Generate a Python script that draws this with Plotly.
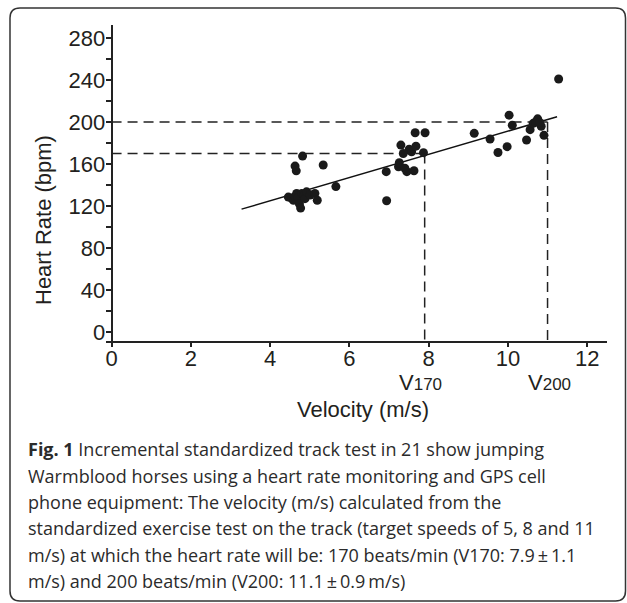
import plotly.graph_objects as go

# ---------------- data ----------------
velocity = [4.46, 4.55, 4.59, 4.63, 4.67, 4.70, 4.74, 4.77, 4.80, 4.85,
            4.88, 4.92, 5.01, 5.13, 5.19, 4.63, 4.66, 4.82, 5.34, 5.66,
            6.93, 6.94, 7.24, 7.26, 7.30, 7.45, 7.51, 7.57, 7.63, 7.66,
            7.68, 7.87, 7.91, 7.36, 7.40,
            9.15, 9.55, 9.75, 9.98, 10.03, 10.11, 10.47, 10.56, 10.64, 10.75,
            10.84, 10.91, 11.28, 10.70, 10.80]
heart_rate = [128.5, 127, 125.5, 129, 132, 128, 122, 118, 132, 130,
              127, 133.5, 130.5, 132, 125.5, 158, 153.5, 167.5, 159, 138.5,
              152.7, 125, 157.4, 161.2, 178, 152.7, 174, 171.7, 153.6, 189.8,
              177, 170.8, 189.8, 170, 156,
              189.2, 183.8, 171, 176.5, 206.5, 197, 182.9, 192.7, 198.7, 203,
              196, 187.3, 241, 200, 199.5]

reg_x = [3.28, 11.24]
reg_y = [117, 205]

hr_levels = [170, 200]
v_levels = [7.9, 11.0]
v_labels = ["170", "200"]

x_ticks = [0, 2, 4, 6, 8, 10, 12]
y_ticks = [0, 40, 80, 120, 160, 200, 240, 280]
x_range = [-0.14, 12.5]
y_range = [-8.6, 292.4]

caption_lines = [
    "<b>Fig. 1</b> Incremental standardized track test in 21 show jumping",
    "Warmblood horses using a heart rate monitoring and GPS cell",
    "phone equipment: The velocity (m/s) calculated from the",
    "standardized exercise test on the track (target speeds of 5, 8 and 11",
    "m/s) at which the heart rate will be: 170 beats/min (V170: 7.9\u2009\u00b1\u20091.1",
    "m/s) and 200 beats/min (V200: 11.1\u2009\u00b1\u20090.9\u2009m/s)",
]

# ---------------- layout geometry (pixels) ----------------
WIDTH, HEIGHT = 627, 603
L, R, T, B = 106, 607, 25, 341          # plot area
PW, PH = R - L, B - T


def px(xp):
    return (xp - L) / PW


def py(yp):
    return (B - yp) / PH


TXT = "#231f20"
FONT = "Liberation Sans, Arial, sans-serif"
FS = 22

fig = go.Figure()

# dashed reference lines
for hr, v in zip(hr_levels, v_levels):
    fig.add_trace(go.Scatter(x=[0, v], y=[hr, hr], mode="lines",
                             line=dict(color="#222", width=1.5, dash="10px,6px"),
                             hoverinfo="skip", showlegend=False))
    fig.add_trace(go.Scatter(x=[v, v], y=[hr, y_range[0]], mode="lines",
                             line=dict(color="#222", width=1.5, dash="10px,6px"),
                             hoverinfo="skip", showlegend=False))

# regression line
fig.add_trace(go.Scatter(x=reg_x, y=reg_y, mode="lines",
                         line=dict(color="#111", width=1.5),
                         hoverinfo="skip", showlegend=False))

# data points
fig.add_trace(go.Scatter(x=velocity, y=heart_rate, mode="markers",
                         marker=dict(color="#1a1a1a", size=9, line=dict(width=0)),
                         showlegend=False))

fig.update_layout(
    width=WIDTH, height=HEIGHT,
    margin=dict(l=L, r=WIDTH - R, t=T, b=HEIGHT - B, pad=0),
    paper_bgcolor="white", plot_bgcolor="white",
    font=dict(family=FONT, color=TXT, size=FS),
    xaxis=dict(range=x_range, tickvals=x_ticks, ticks="outside", ticklen=4,
               tickwidth=1.5, tickcolor="#222", showline=True, linewidth=2,
               linecolor="#222", showgrid=False, zeroline=False,
               ticklabelstandoff=-7,
               tickfont=dict(size=FS, family=FONT, color=TXT)),
    yaxis=dict(range=y_range, tickvals=y_ticks, ticks="outside", ticklen=5,
               tickwidth=1.5, tickcolor="#222", showline=True, linewidth=2,
               linecolor="#222", showgrid=False, zeroline=False,
               anchor="free", position=px(111.6),
               ticklabelstandoff=-4,
               minor=dict(dtick=20, tick0=0, ticks="outside", ticklen=5,
                          tickwidth=1.5, tickcolor="#222", showgrid=False),
               tickfont=dict(size=FS, family=FONT, color=TXT)),
)

ann = []
ann.append(dict(text="Heart Rate (bpm)", x=px(43), y=py(220), xref="paper", yref="paper",
                showarrow=False, textangle=-90, font=dict(size=FS, family=FONT, color=TXT),
                xanchor="center", yanchor="middle"))
ann.append(dict(text="Velocity (m/s)", x=px(363), y=py(409), xref="paper", yref="paper",
                showarrow=False, font=dict(size=FS, family=FONT, color=TXT),
                xanchor="center", yanchor="middle"))
for v, lab, shift in zip(v_levels, v_labels, [-4, 2]):
    ann.append(dict(text="V<span style='font-size:17px'>" + lab + "</span>",
                    x=v, xref="x", y=py(382), yref="paper", xshift=shift,
                    showarrow=False, font=dict(size=FS, family=FONT, color=TXT),
                    xanchor="center", yanchor="middle"))

cap_y = [449, 475.5, 502, 528, 554.5, 581]
for line, yy in zip(caption_lines, cap_y):
    ann.append(dict(text=line, x=px(26), y=py(yy), xref="paper", yref="paper",
                    showarrow=False, xanchor="left", yanchor="middle", align="left",
                    font=dict(size=18, family="Open Sans, sans-serif", color="#2b2b2b")))
fig.update_layout(annotations=ann)

# rounded border
x0, y0, x1, y1, r = 10, 8, 625.5, 601, 10
pts = [("M", [(x0 + r, y0)]), ("L", [(x1 - r, y0)]), ("Q", [(x1, y0), (x1, y0 + r)]),
       ("L", [(x1, y1 - r)]), ("Q", [(x1, y1), (x1 - r, y1)]), ("L", [(x0 + r, y1)]),
       ("Q", [(x0, y1), (x0, y1 - r)]), ("L", [(x0, y0 + r)]), ("Q", [(x0, y0), (x0 + r, y0)])]
path = ""
for cmd, ps in pts:
    path += cmd + " " + " ".join(f"{px(a):.5f},{py(b):.5f}" for a, b in ps) + " "
path += "Z"
fig.add_shape(type="path", path=path, xref="paper", yref="paper",
              line=dict(color="#333", width=1.5), fillcolor="rgba(0,0,0,0)")

# remove the default page margin so the 627x603 figure fills the window exactly
fig.write_html("out.html",
               config={"displayModeBar": False},
               post_script="document.body.style.margin='0';"
                           "document.body.style.overflow='hidden';")
